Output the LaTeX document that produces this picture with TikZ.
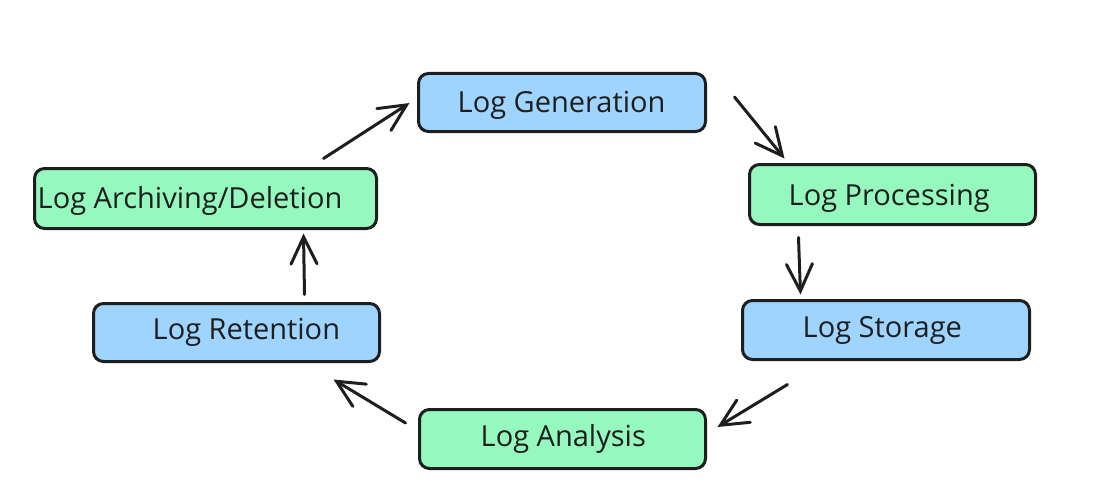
\documentclass[tikz,border=0pt]{standalone}
\usepackage{fontspec}
\setmainfont{Open Sans}
\usetikzlibrary{arrows.meta}
\definecolor{ink}{HTML}{1E1E1E}
\definecolor{bluefill}{HTML}{9FD4FF}
\definecolor{greenfill}{HTML}{95F9BF}
\tikzset{
  box/.style={draw=ink, line width=3pt, rounded corners=10pt, inner sep=0pt, outer sep=0pt},
  bluebox/.style={box, fill=bluefill},
  greenbox/.style={box, fill=greenfill},
  txt/.style={anchor=base west, inner sep=0pt, text=ink, font=\fontsize{29}{34}\selectfont},
  flow/.style={draw=ink, line width=3pt, line cap=round, -{Straight Barb[length=27pt,width=26pt,line cap=round]}}
}
\begin{document}
\begin{tikzpicture}[x=1pt,y=-1pt]
\useasboundingbox (0,0) rectangle (1098,503);
% boxes
\node[bluebox,  minimum width=287pt, minimum height=58pt] (gen)  at (562,102.5) {};
\node[greenbox, minimum width=286pt, minimum height=60pt] (proc) at (892.5,194.5) {};
\node[bluebox,  minimum width=287pt, minimum height=59pt] (stor) at (886,330) {};
\node[greenbox, minimum width=286pt, minimum height=59pt] (ana)  at (562.5,439) {};
\node[bluebox,  minimum width=286pt, minimum height=58pt] (ret)  at (236.5,332.5) {};
\node[greenbox, minimum width=342pt, minimum height=60pt] (arch) at (205.5,198.5) {};
% labels
\node[txt] (genT)  at (457.5,113) {Log Generation};
\node[txt] (procT) at (788.5,205) {Log Processing};
\node[txt] (storT) at (802.5,337) {Log Storage};
\node[txt] (anaT)  at (480.5,446) {Log Analysis};
\node[txt] (retT)  at (152.5,339) {Log Retention};
\node[txt] (archT) at (37.5,208) {Log Archiving/Deletion};
% connectors
\draw[flow] ([shift={(29,-5.5)}]gen.east) -- ([shift={(35,-6)}]proc.north west);
\draw[flow] ([shift={(49,13)}]proc.south west) -- ([shift={(58,-6)}]stor.north west);
\draw[flow] ([shift={(45,25)}]stor.south west) -- ([shift={(12,-12)}]ana.east);
\draw[flow] ([shift={(-14,-16)}]ana.west) -- ([shift={(-46,18)}]ret.south east);
\draw[flow] ([shift={(211,-9)}]ret.north west) -- ([shift={(269,5)}]arch.south west);
\draw[flow] ([shift={(289,-10)}]arch.north west) -- ([shift={(-9,0.5)}]gen.west);
\end{tikzpicture}
\end{document}
